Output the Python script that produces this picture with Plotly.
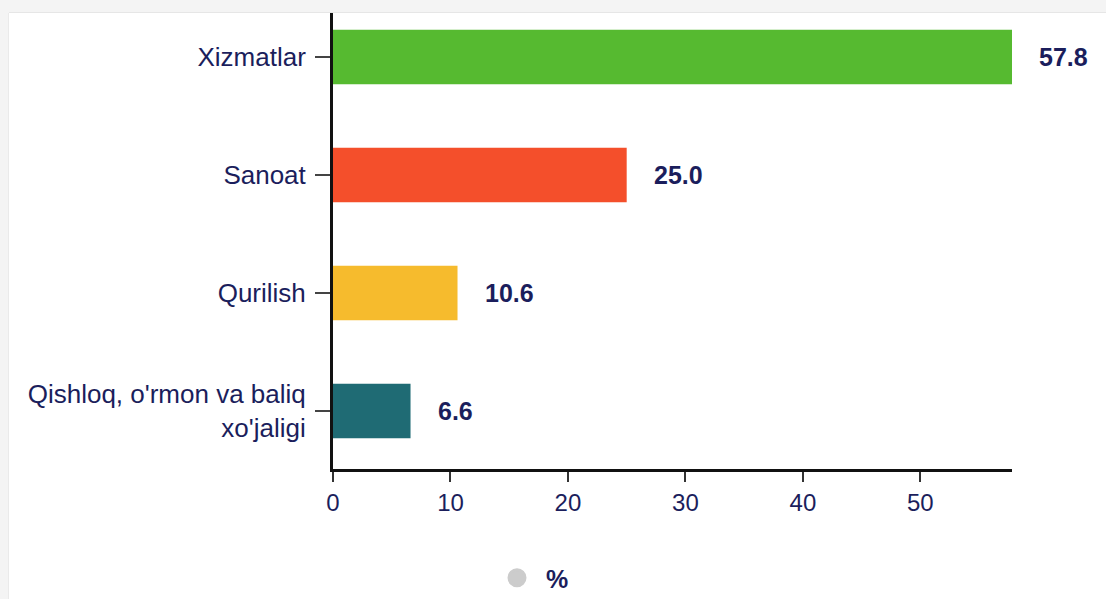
import plotly.graph_objects as go

# 데이터
sectors = ['Xizmatlar', 'Sanoat', 'Qurilish', "Qishloq, o'rmon va baliq<br>xo'jaligi"]
shares = [57.8, 25.0, 10.6, 6.6]
bar_colors = ['#56ba30', '#f44f2b', '#f6bb2d', '#1f6b74']
x_ticks = [0, 10, 20, 30, 40, 50]
legend_name = '%'

TEXT = '#1b1e5c'
FONT = 'Liberation Sans, Arial, sans-serif'

W, H = 1106, 599
M_L, M_R, M_T, M_B = 333, 94, 13, 130
PW = W - M_L - M_R
PH = H - M_T - M_B


def px_x(p):
    return (p - M_L) / PW


def px_y(p):
    return (H - M_B - p) / PH


fig = go.Figure()

fig.add_trace(go.Bar(
    x=shares,
    y=list(range(len(sectors))),
    orientation='h',
    width=0.46,
    marker=dict(color=bar_colors, line=dict(width=0)),
    showlegend=False,
    hoverinfo='skip'
))

# 범례용 더미 트레이스
fig.add_trace(go.Scatter(
    x=[None], y=[None],
    mode='markers',
    name='<b>' + legend_name + '</b>',
    marker=dict(symbol='circle', size=16, color='#cccccc',
                line=dict(color='#cccccc', width=3))
))

# 값 레이블
for i, v in enumerate(shares):
    fig.add_annotation(
        x=v, y=i, xref='x', yref='y',
        text='<b>%.1f</b>' % v,
        showarrow=False, xanchor='left', yanchor='middle', xshift=25,
        font=dict(family=FONT, size=25, color=TEXT)
    )

# 배경 카드
fig.add_shape(type='rect', xref='paper', yref='paper', layer='below',
              x0=px_x(9), x1=px_x(W + 2), y0=px_y(H + 2), y1=px_y(13),
              fillcolor='white', line=dict(width=0))
fig.add_shape(type='line', xref='paper', yref='paper', layer='below',
              x0=px_x(9), x1=px_x(W + 2), y0=px_y(12.5), y1=px_y(12.5),
              line=dict(color='#e6e6e6', width=1))
fig.add_shape(type='line', xref='paper', yref='paper', layer='below',
              x0=px_x(8.5), x1=px_x(8.5), y0=px_y(H + 2), y1=px_y(13),
              line=dict(color='#eaeaea', width=1))

cat_h = 118
top_off = (57 - M_T) / cat_h
fig.update_layout(
    width=W, height=H,
    margin=dict(l=M_L, r=M_R, t=M_T, b=M_B, pad=0, autoexpand=False),
    paper_bgcolor='#f4f4f4',
    plot_bgcolor='rgba(0,0,0,0)',
    font=dict(family=FONT, size=25, color=TEXT),
    xaxis=dict(
        range=[0, max(shares)],
        tickvals=x_ticks,
        showgrid=False, zeroline=False,
        showline=True, linecolor='#111111', linewidth=3,
        ticks='outside', ticklen=10, tickwidth=2, tickcolor='#333333',
        tickfont=dict(family=FONT, size=24, color=TEXT),
        fixedrange=True
    ),
    yaxis=dict(
        range=[-top_off + PH / cat_h, -top_off],
        tickvals=list(range(len(sectors))),
        ticktext=sectors,
        showgrid=False, zeroline=False,
        showline=True, linecolor='#111111', linewidth=3,
        ticks='outside', ticklen=15, tickwidth=2, tickcolor='#444444',
        ticklabelstandoff=4,
        tickfont=dict(family=FONT, size=26, color=TEXT),
        fixedrange=True
    ),
    legend=dict(
        orientation='h',
        x=px_x(488), y=px_y(578),
        xanchor='left', yanchor='middle',
        itemwidth=48,
        bgcolor='rgba(0,0,0,0)',
        font=dict(family=FONT, size=25, color=TEXT)
    ),
    showlegend=True
)

fig.write_html('out.html', config={'displayModeBar': False},
               post_script="document.body.style.margin='0';")
